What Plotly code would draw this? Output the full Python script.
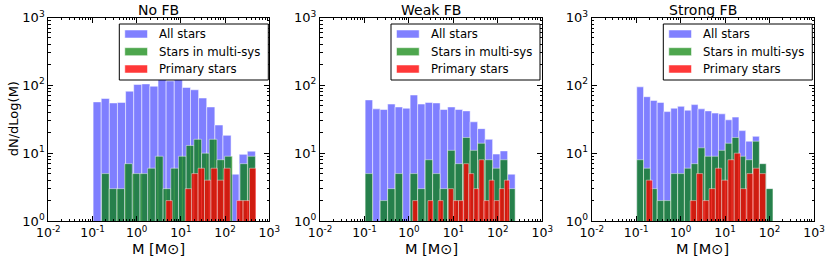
import numpy as np
import plotly.graph_objects as go

W, H = 830, 260

titles = ["No FB", "Weak FB", "Strong FB"]
series_names = ["All stars", "Stars in multi-sys", "Primary stars"]
x_tick_vals = [-2, -1, 0, 1, 2, 3]
x_tick_text = ["10<sup>-2</sup>", "10<sup>-1</sup>", "10<sup>0</sup>",
               "10<sup>1</sup>", "10<sup>2</sup>", "10<sup>3</sup>"]
y_tick_vals = [1, 10, 100, 1000]
y_tick_text = ["10<sup>0</sup>", "10<sup>1</sup>", "10<sup>2</sup>", "10<sup>3</sup>"]

# histogram bins in log10(M): lower edge and bin width, per panel
all_start = [-0.986, -0.985, -0.987]
all_width = [0.1836, 0.1687, 0.1532]
multi_start = [-0.796, -0.985, -0.987]
multi_width = [0.1741, 0.1687, 0.1532]
prim_start = [0.661, 0.083, -0.775]
prim_width = [0.1455, 0.1147, 0.1415]

# dN/dLog(M) values
all_nofb = [57, 64, 55, 56, 82, 103, 105, 97, 122, 116, 122, 93, 86, 65, 48, 26, 18.3, 4.9, 9.6, 10.7]
multi_nofb = [5, 3, 3, 7, 5, 5, 6, 9, 3, 6, 9, 13, 16, 10, 16, 8, 9, 0, 7, 9]
prim_nofb = [2, 0, 0, 3, 5, 6, 4, 6, 4, 6, 0, 2, 2, 6]

all_weak = [61, 45, 44, 53, 48, 46, 72, 53, 56, 55, 44, 48, 44, 42, 29, 23, 16, 9.7, 10.8, 4.9]
multi_weak = [5, 0, 2, 3, 5, 0, 5, 3, 8, 5, 3, 11, 7, 17, 11, 14, 8, 6, 8, 3]
prim_weak = [2, 0, 0, 2, 0, 2, 0, 3, 2, 2, 7, 5, 3, 8, 2, 4, 2, 3, 4]

all_strong = [95, 68, 60, 56, 41, 46, 49, 43, 52, 45, 42, 39, 38, 31, 34, 21.5, 15, 17.7, 7, 3]
multi_strong = [8, 6, 3, 2, 2, 5, 5, 6, 7, 12, 9, 9, 11, 14, 17, 9, 8, 15, 7, 3]
prim_strong = [4, 0, 0, 0, 0, 0, 0, 2, 5, 2, 3, 6, 4, 8, 10, 3, 5, 6, 5]

all_vals = [all_nofb, all_weak, all_strong]
multi_vals = [multi_nofb, multi_weak, multi_strong]
prim_vals = [prim_nofb, prim_weak, prim_strong]

fills = ["rgba(0,0,255,0.5)", "rgba(0,128,0,0.7)", "rgba(255,0,0,0.78)"]
edges = ["rgba(255,255,255,0.5)", "rgba(255,255,255,0.45)", "rgba(255,255,255,0.4)"]
legend_fill = ["rgb(128,128,255)", "rgb(77,166,77)", "rgb(255,56,56)"]

FONT = "DejaVu Sans"

# panel pixel boxes
px_left = [48.3, 320.0, 591.7]
px_right = [269.3, 542.3, 814.0]
px_top, px_bottom = 17.5, 221.0
leg_left = [119.3, 391.0, 663.3]


def xp(px):
    return px / W


def yp(py):
    return 1 - py / H


fig = go.Figure()


def add_hist(panel, start, width, vals, k):
    n = len(vals)
    centers = [start + width * (i + 0.5) for i in range(n)]
    yv = [v if v > 0 else None for v in vals]
    suffix = "" if panel == 0 else str(panel + 1)
    fig.add_trace(go.Bar(
        x=centers, y=yv, width=[width] * n,
        marker=dict(color=fills[k], line=dict(color=edges[k], width=1)),
        xaxis="x" + suffix, yaxis="y" + suffix,
        showlegend=False, name=series_names[k], hoverinfo="skip"))


for p in range(3):
    add_hist(p, all_start[p], all_width[p], all_vals[p], 0)
    add_hist(p, multi_start[p], multi_width[p], multi_vals[p], 1)
    add_hist(p, prim_start[p], prim_width[p], prim_vals[p], 2)

x_minor = [float(np.log10(m * 10.0 ** d)) for d in range(-2, 3) for m in range(2, 10)]
y_minor = [m * 10 ** d for d in range(0, 3) for m in range(2, 10)]

layout = dict(
    width=W, height=H, margin=dict(l=0, r=0, t=0, b=0, pad=0, autoexpand=False),
    paper_bgcolor="white", plot_bgcolor="white",
    barmode="overlay", bargap=0, showlegend=False,
    font=dict(family=FONT, size=12, color="black"),
)

shapes = []
annotations = []
for p in range(3):
    suffix = "" if p == 0 else str(p + 1)
    layout["xaxis" + suffix] = dict(
        domain=[xp(px_left[p]), xp(px_right[p])], anchor="y" + suffix, automargin=False,
        range=[-2, 3], tickmode="array", tickvals=x_tick_vals, ticktext=x_tick_text,
        ticks="inside", ticklen=5, tickwidth=1, tickcolor="black",
        showline=True, linecolor="black", linewidth=1, mirror="ticks",
        showgrid=False, zeroline=False,
        tickfont=dict(family=FONT, size=12.5),
        minor=dict(tickmode="array", tickvals=x_minor, ticks="inside", ticklen=2.5,
                   tickcolor="black", tickwidth=1, showgrid=False),
    )
    layout["yaxis" + suffix] = dict(
        domain=[yp(px_bottom), yp(px_top)], anchor="x" + suffix, automargin=False,
        type="log", range=[0, 3], tickmode="array", tickvals=y_tick_vals, ticktext=y_tick_text,
        ticks="inside", ticklen=5, tickwidth=1, tickcolor="black",
        showline=True, linecolor="black", linewidth=1, mirror="ticks",
        showgrid=False, zeroline=False,
        tickfont=dict(family=FONT, size=13),
        minor=dict(tickmode="array", tickvals=y_minor, ticks="inside", ticklen=2.5,
                   tickcolor="black", tickwidth=1, showgrid=False),
    )
    cx = (px_left[p] + px_right[p]) / 2
    annotations.append(dict(text=titles[p], x=xp(cx), y=yp(10), xref="paper", yref="paper",
                            xanchor="center", yanchor="middle", showarrow=False,
                            font=dict(family=FONT, size=14)))
    annotations.append(dict(text="M [M\u2299]", x=xp(cx), y=yp(248.5), xref="paper", yref="paper",
                            xanchor="center", yanchor="middle", showarrow=False,
                            font=dict(family=FONT, size=14.5)))
    # legend
    L = leg_left[p]
    shapes.append(dict(type="rect", xref="paper", yref="paper",
                       x0=xp(L), x1=xp(L + 149), y0=yp(80), y1=yp(24),
                       line=dict(color="black", width=1), fillcolor="white", layer="above"))
    for k, yc in enumerate([34, 51.7, 69]):
        shapes.append(dict(type="rect", xref="paper", yref="paper",
                           x0=xp(L + 5.5), x1=xp(L + 28.2), y0=yp(yc + 4), y1=yp(yc - 4),
                           line=dict(color="rgba(255,255,255,0.5)", width=1),
                           fillcolor=legend_fill[k], layer="above"))
        annotations.append(dict(text=series_names[k], x=xp(L + 37.8), y=yp(yc),
                                xref="paper", yref="paper", xanchor="left", yanchor="middle",
                                showarrow=False, font=dict(family=FONT, size=11.7)))

annotations.append(dict(text="dN/dLog(M)", x=xp(13), y=yp((px_top + px_bottom) / 2),
                        xref="paper", yref="paper", xanchor="center", yanchor="middle",
                        textangle=-90, showarrow=False, font=dict(family=FONT, size=13)))

layout["shapes"] = shapes
layout["annotations"] = annotations
fig.update_layout(**layout)
fig.write_html("out.html",
               config={"displayModeBar": False, "staticPlot": True},
               post_script="document.body.style.margin='0px';"
                           "document.body.style.overflow='hidden';")
